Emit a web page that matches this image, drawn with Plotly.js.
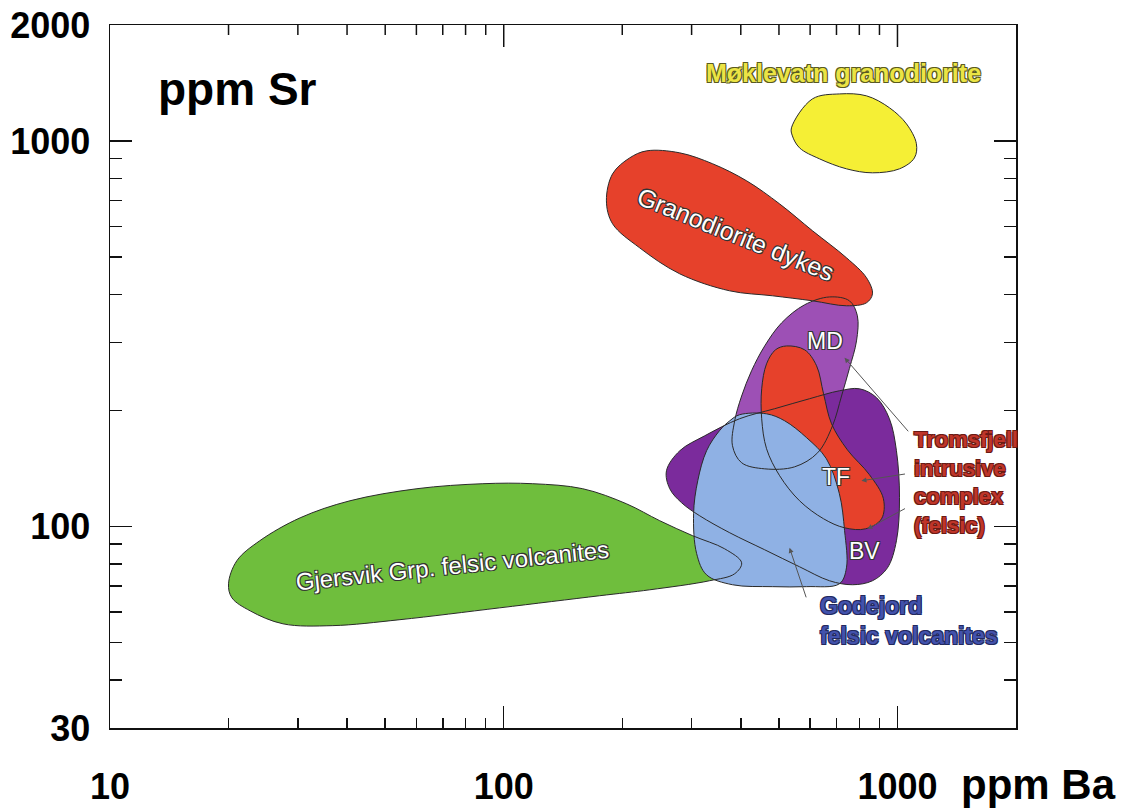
<!DOCTYPE html>
<html>
<head>
<meta charset="utf-8">
<script src="https://cdn.plot.ly/plotly-3.0.1.min.js"></script>
<style>html,body{margin:0;padding:0;background:#fff;}#chart{width:1144px;height:810px;}</style>
</head>
<body>
<div id="chart"></div>
<script>
// ---------- axis ticks ----------
const baMajor = [10, 100, 1000];
const baMajorLabels = ['10', '100', '1000'];
const baMinor = [20, 30, 40, 50, 60, 70, 80, 90, 200, 300, 400, 500, 600, 700, 800, 900];
const srMajor = [30, 100, 1000, 2000];
const srMajorLabels = ['30', '100', '1000', '2000'];
const srMinor = [40, 50, 60, 70, 80, 90, 200, 300, 400, 500, 600, 700, 800, 900];

// ---------- field outlines (ppm Ba, ppm Sr) ----------
const gjersvikBa = [20, 21, 24, 30.4, 40.7, 60.2, 88.5, 118.5, 158.7, 205, 249, 302, 364, 402, 386, 333, 235, 175, 97.7, 54.5, 36.8, 27.5, 22.7, 20.4];
const gjersvikSr = [71, 81.5, 91.8, 105.3, 116.6, 125.3, 129.1, 129.1, 125.3, 114.5, 103.5, 94.6, 87.5, 80.5, 75.4, 72.3, 68.5, 66.1, 61.5, 57.3, 55.3, 55.9, 60.4, 65.3];

const mdBa = [672, 755, 791, 787, 755, 721, 684, 627, 548, 460, 402, 381, 386, 402, 426, 460, 508, 581];
const mdSr = [394, 385, 352, 303, 257, 218, 182.5, 155.3, 142.8, 141.1, 146.3, 162, 188, 218, 253.5, 294, 337.6, 376];

const bvBa = [259, 280, 324, 397, 487, 598, 712, 801, 885, 954, 994, 1012, 994, 943, 864, 769, 672, 564, 460, 375, 314.5, 283, 264];
const bvSr = [139.5, 157.2, 171.9, 190.3, 202, 214.5, 224.9, 227.6, 215.8, 190.3, 157.2, 118.7, 91.8, 78.1, 72.3, 70.6, 72.3, 78.6, 87, 96.3, 106.6, 115.2, 125.3];

const tfBa = [523, 581, 623, 649, 680, 746, 849, 921, 911, 830, 734, 649, 564, 502, 465, 452, 452, 465, 490];
const tfSr = [294, 287.3, 261.2, 220.9, 184.7, 158.1, 136.2, 118, 104.7, 98.6, 99.2, 104.7, 116.6, 135.4, 159.1, 190.3, 227.6, 264.2, 287.3];

const godejordBa = [397, 465, 517, 588, 660, 712, 734, 742, 712, 588, 482, 381, 327.5, 309, 303.5, 311, 327.5, 353, 375];
const godejordSr = [194.9, 196, 188, 169.9, 149.8, 121.6, 97.5, 78.1, 71, 69.8, 69.8, 70.6, 74.9, 85, 107.9, 131.4, 157.2, 177.1, 188];

const dykesBa = [182.3, 189, 208.8, 230.6, 279.7, 339.2, 413.9, 501.8, 608.6, 742.3, 834.3, 864, 834.3, 742.3, 608.6, 481.6, 374.6, 279.7, 221.4, 189];
const dykesSr = [699.5, 822, 904, 943, 932, 873, 788.4, 687.1, 584.8, 497.7, 441.8, 401.4, 380.5, 373.7, 385, 396.7, 408.7, 452.5, 528.4, 609.9];

const moklevatnBa = [538, 608, 713, 834, 955, 1054, 1117, 1104, 1012, 864, 742, 634, 564, 541];
const moklevatnSr = [1082, 1286, 1325, 1310, 1219, 1108, 984, 904, 847, 827, 847, 899, 960, 1031];

// pointer lines: [headBa, headSr, tailBa, tailSr]
const pointers = [
  [734, 274, 1073, 175],
  [810, 131.4, 1054, 137],
  [839, 98.6, 1054, 111.8],
  [532, 88, 588, 64.9]
];

const fields = [
  {x: gjersvikBa, y: gjersvikSr, fill: '#6fbe3d'},
  {x: mdBa, y: mdSr, fill: '#9d50b5'},
  {x: bvBa, y: bvSr, fill: '#7b2b9c'},
  {x: tfBa, y: tfSr, fill: '#e6412b'},
  {x: godejordBa, y: godejordSr, fill: '#8fb1e4'},
  {x: dykesBa, y: dykesSr, fill: '#e6412b'},
  {x: moklevatnBa, y: moklevatnSr, fill: '#f5ef35'}
];

const L = Math.log10;
const xRange = [1, L(2000)];
const yRange = [L(30), L(2000)];
const MARGIN = {l: 110, r: 128, t: 25, b: 82};
const plotH = 810 - MARGIN.t - MARGIN.b;
const pxPerDecade = plotH / (yRange[1] - yRange[0]);

function closed(a) { return a.concat([a[0]]); }

const traces = [];
fields.forEach(f => {
  traces.push({
    type: 'scatter', mode: 'lines', x: closed(f.x), y: closed(f.y),
    fill: 'toself', fillcolor: f.fill,
    line: {shape: 'spline', smoothing: 1, width: 0, color: f.fill},
    hoverinfo: 'skip'
  });
});
fields.forEach(f => {
  traces.push({
    type: 'scatter', mode: 'lines', x: closed(f.x), y: closed(f.y),
    line: {shape: 'spline', smoothing: 1, width: 1, color: '#2a2a2a'},
    hoverinfo: 'skip'
  });
});

// top-edge tick row (mirrors the bottom ticks), built from the tick arrays
const topSr = 10 ** yRange[1];
const tx = [], ty = [];
function addTop(vals, len) {
  const low = 10 ** (yRange[1] - len / pxPerDecade);
  vals.forEach(v => { tx.push(v, v, null); ty.push(topSr, low, null); });
}
addTop(baMajor.slice(1), 22);
addTop(baMinor, 10);
traces.push({type: 'scatter', mode: 'lines', x: tx, y: ty, line: {color: '#111', width: 1.5},
  hoverinfo: 'skip', cliponaxis: false});

// invisible anchor so the right-hand tick axis is drawn
traces.push({type: 'scatter', mode: 'markers', x: [baMajor[1]], y: [srMajor[1]], xaxis: 'x', yaxis: 'y2',
  marker: {opacity: 0}, hoverinfo: 'skip'});

const FONT = 'Liberation Sans, Arial, Helvetica, sans-serif';
const outline = c => `1px 1px 0 ${c}, -1px -1px 0 ${c}, 1px -1px 0 ${c}, -1px 1px 0 ${c}`;

function lab(text, ba, sr, opts) {
  return Object.assign({
    text: text, x: L(ba), y: L(sr), xref: 'x', yref: 'y', showarrow: false,
    font: {family: FONT, size: 23, color: '#ffffff', shadow: outline('#333')}
  }, opts || {});
}

const annotations = [
  lab('Møklevatn granodiorite', 729.5, 1498, {font: {family: FONT, size: 25, weight: 'bold', color: '#ebe445', shadow: outline('#5a5a20')}}),
  lab('Granodiorite dykes', 388, 574.6, {textangle: 22, font: {family: FONT, size: 25, color: '#ffffff', shadow: outline('#333')}}),
  lab('Gjersvik Grp. felsic volcanites', 74.2, 79.1, {textangle: -6, font: {family: FONT, size: 24, color: '#ffffff', shadow: outline('#333')}}),
  lab('MD', 652.8, 303),
  lab('TF', 700, 134.6),
  lab('BV', 824.6, 86.5),
  lab('Tromsfjell<br>intrusive<br>complex<br>(felsic)', 1091.6, 129.8, {xanchor: 'left', align: 'left',
    font: {family: FONT, size: 22, weight: 'bold', color: '#bf3529', shadow: outline('#6a1a14')}}),
  lab('Godejord<br>felsic volcanites', 626.6, 56.9, {xanchor: 'left', align: 'left',
    font: {family: FONT, size: 23, weight: 'bold', color: '#4252ac', shadow: outline('#23295e')}}),
  {text: 'ppm Sr', xref: 'paper', yref: 'paper', x: 0.1407, y: 0.909, xanchor: 'center', yanchor: 'middle', showarrow: false,
    font: {family: FONT, size: 46, weight: 'bold', color: '#000'}},
  {text: 'ppm Ba', xref: 'paper', yref: 'paper', x: 0.938, y: -0.081, xanchor: 'left', yanchor: 'middle', showarrow: false,
    borderpad: 0, font: {family: FONT, size: 42, weight: 'bold', color: '#000'}}
];
pointers.forEach(p => {
  annotations.push({
    x: L(p[0]), y: L(p[1]), ax: L(p[2]), ay: L(p[3]), xref: 'x', yref: 'y', axref: 'x', ayref: 'y',
    text: '', showarrow: true, arrowhead: 2, arrowsize: 1, arrowwidth: 1, arrowcolor: '#555', standoff: 0
  });
});

const tickfont = {family: FONT, size: 36, weight: 'bold', color: '#000'};
const xMinor = {tickmode: 'array', tickvals: baMinor, ticks: 'inside', ticklen: 10, tickwidth: 1.5, tickcolor: '#111', showgrid: false};
const yMinor = {tickmode: 'array', tickvals: srMinor, ticks: 'inside', ticklen: 12, tickwidth: 1.5, tickcolor: '#111', showgrid: false};

const layout = {
  width: 1144, height: 810,
  margin: MARGIN,
  paper_bgcolor: '#fff', plot_bgcolor: '#fff',
  showlegend: false,
  xaxis: {
    type: 'log', range: xRange, tickmode: 'array', tickvals: baMajor, ticktext: baMajorLabels,
    ticks: 'inside', ticklen: 22, tickwidth: 1.5, tickcolor: '#111',
    showline: true, linewidth: 1.5, linecolor: '#111', mirror: true,
    showgrid: false, zeroline: false, tickfont: tickfont, ticklabelstandoff: 26,
    minor: xMinor
  },
  yaxis: {
    type: 'log', range: yRange, tickmode: 'array', tickvals: srMajor, ticktext: srMajorLabels,
    ticks: 'inside', ticklen: 22, tickwidth: 1.5, tickcolor: '#111',
    showline: true, linewidth: 1.5, linecolor: '#111', mirror: true,
    showgrid: false, zeroline: false, tickfont: tickfont, ticklabelstandoff: 11,
    minor: yMinor
  },
  yaxis2: {
    type: 'log', range: yRange, overlaying: 'y', side: 'right', anchor: 'x', tickmode: 'array', tickvals: srMajor,
    ticks: 'inside', ticklen: 22, tickwidth: 1.5, tickcolor: '#111', showticklabels: false,
    showline: false, showgrid: false, zeroline: false, minor: yMinor
  },
  annotations: annotations
};

Plotly.newPlot('chart', traces, layout, {displayModeBar: false, staticPlot: true});
</script>
</body>
</html>
